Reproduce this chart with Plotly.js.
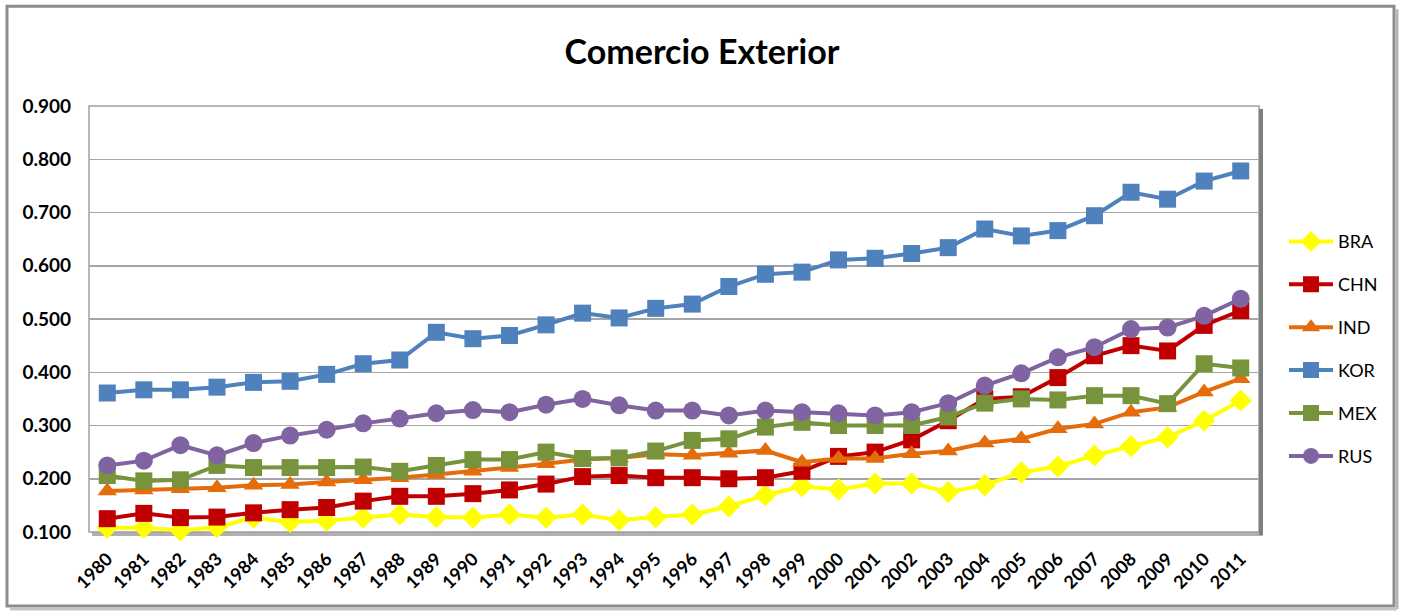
<!DOCTYPE html>
<html>
<head>
<meta charset="utf-8">
<script src="https://cdn.plot.ly/plotly-3.0.1.min.js"></script>
<style>
  html, body { margin: 0; padding: 0; background: #ffffff; }
  #chart { width: 1404px; height: 615px; }
</style>
</head>
<body>
<div id="chart"></div>
<script>
const years = ["1980","1981","1982","1983","1984","1985","1986","1987","1988","1989",
  "1990","1991","1992","1993","1994","1995","1996","1997","1998","1999",
  "2000","2001","2002","2003","2004","2005","2006","2007","2008","2009","2010","2011"];

const BRA = [0.108,0.108,0.103,0.109,0.127,0.119,0.121,0.127,0.133,0.128,
  0.127,0.133,0.127,0.133,0.122,0.128,0.133,0.148,0.169,0.186,
  0.180,0.191,0.191,0.175,0.188,0.212,0.223,0.244,0.261,0.278,0.309,0.347];
const CHN = [0.125,0.135,0.127,0.128,0.136,0.142,0.146,0.158,0.167,0.167,
  0.172,0.179,0.190,0.204,0.206,0.202,0.202,0.200,0.202,0.214,
  0.242,0.250,0.273,0.309,0.350,0.354,0.390,0.431,0.450,0.440,0.488,0.516];
const IND = [0.177,0.179,0.181,0.183,0.188,0.189,0.194,0.198,0.202,0.208,
  0.214,0.221,0.228,0.236,0.239,0.246,0.244,0.248,0.253,0.231,
  0.238,0.238,0.247,0.252,0.267,0.275,0.294,0.303,0.325,0.334,0.363,0.388];
const KOR = [0.361,0.367,0.367,0.372,0.381,0.383,0.396,0.416,0.423,0.475,
  0.463,0.469,0.489,0.511,0.502,0.520,0.528,0.561,0.584,0.588,
  0.611,0.614,0.623,0.634,0.669,0.656,0.666,0.694,0.738,0.725,0.759,0.778];
const MEX = [0.206,0.196,0.198,0.225,0.221,0.221,0.221,0.222,0.214,0.225,
  0.236,0.236,0.250,0.238,0.239,0.252,0.272,0.275,0.297,0.306,
  0.300,0.300,0.300,0.316,0.342,0.350,0.348,0.356,0.356,0.341,0.416,0.408];
const RUS = [0.225,0.234,0.263,0.244,0.267,0.281,0.292,0.304,0.313,0.323,
  0.329,0.325,0.339,0.350,0.338,0.328,0.328,0.319,0.328,0.325,
  0.323,0.319,0.325,0.342,0.375,0.398,0.428,0.447,0.481,0.484,0.506,0.538];

const yTicks = [0.1,0.2,0.3,0.4,0.5,0.6,0.7,0.8,0.9];
const yTickText = ["0.100","0.200","0.300","0.400","0.500","0.600","0.700","0.800","0.900"];

const FONT = "Lato, 'Open Sans', sans-serif";

function series(name, y, color, symbol, size) {
  return {
    type: "scatter", mode: "lines+markers", name: name,
    x: years, y: y, legendgroup: name, cliponaxis: false,
    line: { color: color, width: 4 },
    marker: { color: color, symbol: symbol, size: size }
  };
}

const data = [
  series("BRA", BRA, "#FFFF00", "diamond", 17),
  series("CHN", CHN, "#C00000", "square", 17),
  series("IND", IND, "#E46C0A", "triangle-up", 17),
  series("KOR", KOR, "#4F81BD", "square", 17),
  series("MEX", MEX, "#77933C", "square", 17),
  series("RUS", RUS, "#8064A2", "circle", 18)
];

// plot area in pixels: x 89..1259, y 105.7..532
const L = 89, R = 1259, T = 105.7, B = 532;
const px = v => (v - L) / (R - L);
const py = v => (B - v) / (B - T);

const layout = {
  width: 1404, height: 615,
  margin: { l: L, r: 1404 - R, t: T, b: 615 - B, pad: 0 },
  paper_bgcolor: "#ffffff", plot_bgcolor: "#ffffff",
  font: { family: FONT, color: "#000000" },
  title: {
    text: "<b>Comercio Exterior</b>",
    font: { family: FONT, size: 34, color: "#000000" },
    x: 0.5, xref: "container", xanchor: "center",
    y: 1 - 52 / 615, yref: "container", yanchor: "middle"
  },
  showlegend: true,
  legend: {
    x: px(1284), xanchor: "left", xref: "paper",
    y: py(223), yanchor: "top", yref: "paper",
    font: { family: FONT, size: 18, color: "#000000" },
    traceorder: "grouped", tracegroupgap: 16.5, itemwidth: 44,
    bgcolor: "rgba(0,0,0,0)", borderwidth: 0
  },
  xaxis: {
    type: "category", tickangle: -45, range: [-0.5, 31.5], autorange: false,
    tickfont: { family: FONT, size: 18, color: "#000000", weight: "bold" },
    showgrid: false, zeroline: false,
    showline: false, ticks: "", ticklen: 0,
    fixedrange: true, ticklabelstandoff: 12
  },
  yaxis: {
    range: [0.1, 0.9], tickmode: "array", tickvals: yTicks, ticktext: yTickText,
    tickfont: { family: FONT, size: 19, color: "#000000", weight: "bold" },
    showgrid: true, gridcolor: "#a6a6a6", gridwidth: 1.5,
    zeroline: false, showline: false, ticks: "", ticklen: 0,
    fixedrange: true, ticklabelstandoff: 17
  },
  shapes: [
    // outer frame
    { type: "rect", xref: "paper", yref: "paper",
      x0: px(7), x1: px(1394), y0: py(606), y1: py(6),
      line: { color: "#8c8c8c", width: 3 }, layer: "below" },
    { type: "line", xref: "paper", yref: "paper",
      x0: px(1397), x1: px(1397), y0: py(609), y1: py(9),
      line: { color: "#b5b5b5", width: 3 }, layer: "below" },
    { type: "line", xref: "paper", yref: "paper",
      x0: px(10), x1: px(1397), y0: py(609), y1: py(609),
      line: { color: "#c5c5c5", width: 3 }, layer: "below" },
    // plot area shadow
    { type: "line", xref: "paper", yref: "paper",
      x0: px(R + 2), x1: px(R + 2), y0: py(B + 3), y1: py(T + 3),
      line: { color: "#7f7f7f", width: 4 }, layer: "above" },
    { type: "line", xref: "paper", yref: "paper",
      x0: px(L + 3), x1: px(R + 4), y0: py(B + 2), y1: py(B + 2),
      line: { color: "#b0b0b0", width: 4 }, layer: "below" },
    { type: "rect", xref: "paper", yref: "paper",
      x0: 0, x1: 1, y0: 0, y1: 1,
      line: { color: "#a0a0a0", width: 1.5 }, layer: "below" }
  ]
};

Plotly.newPlot("chart", data, layout, { displayModeBar: false, staticPlot: true });
</script>
</body>
</html>
